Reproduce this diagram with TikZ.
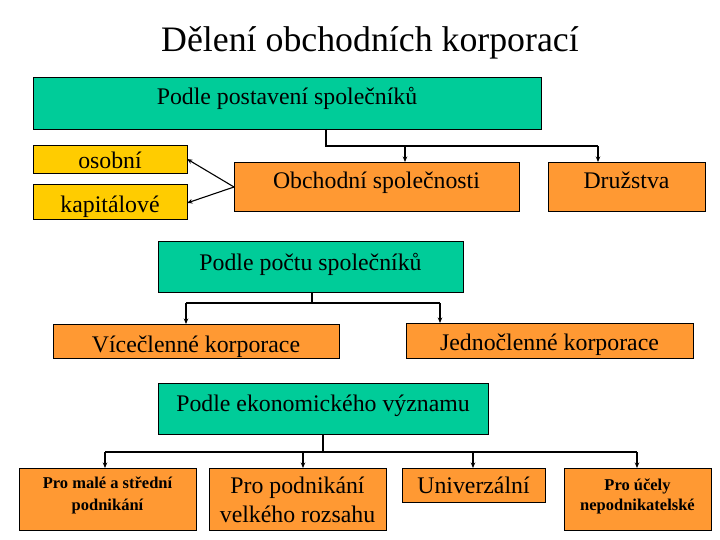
\documentclass[tikz,border=0pt]{standalone}
\usepackage{fontspec}
\setmainfont{Liberation Serif}
\usetikzlibrary{arrows.meta}
\definecolor{teal1}{HTML}{00CC99}
\definecolor{orng}{HTML}{FF9933}
\definecolor{yel}{HTML}{FFCC00}
\begin{document}
\begin{tikzpicture}[x=1pt,y=-1pt,
  box/.style={draw=black,line width=0.8pt,inner sep=0pt,outer sep=0pt},
  txt/.style={inner sep=0pt,anchor=base,font=\fontsize{23.8}{26}\selectfont},
  stxt/.style={inner sep=0pt,anchor=base,font=\fontsize{16.5}{18}\selectfont\bfseries},
  conn/.style={line width=1.1pt},
  arr/.style={line width=1.1pt,-{Stealth[length=5.5pt,width=4.5pt]}}]
\useasboundingbox (0,0) rectangle (720,540);
% title
\node[inner sep=0pt,anchor=base,font=\fontsize{35.8}{38}\selectfont] (title) at (370,52) {Dělení obchodních korporací};
% level 1
\node[box,fill=teal1,minimum width=508pt,minimum height=52pt] (b1) at (287,103) {};
\node[txt] (t1) at (287,105) {Podle postavení společníků};
\node[box,fill=yel,minimum width=154pt,minimum height=28pt] (os) at (110,159) {};
\node[txt] (tos) at (110,169) {osobní};
\node[box,fill=yel,minimum width=154pt,minimum height=35pt] (kap) at (110,201.5) {};
\node[txt] (tkap) at (110,212) {kapitálové};
\node[box,fill=orng,minimum width=285pt,minimum height=49pt] (obch) at (376.5,186.5) {};
\node[txt] (tobch) at (376.5,189) {Obchodní společnosti};
\node[box,fill=orng,minimum width=157pt,minimum height=49pt] (druz) at (626.5,186.5) {};
\node[txt] (tdruz) at (626.5,189) {Družstva};
\coordinate (j1) at (326,146);
\draw[conn] (b1.south -| j1) -- (j1) -- (598,146);
\draw[arr] (405,146) -- (obch.north -| 405,0);
\draw[arr] (598,146) -- (druz.north -| 598,0);
\coordinate (oL) at (234,187);
\draw[arr] (oL) -- (os.east |- 0,159);
\draw[arr] (oL) -- (kap.east |- 0,203);
% level 2
\node[box,fill=teal1,minimum width=305pt,minimum height=51pt] (b2) at (310.5,266.5) {};
\node[txt] (t2) at (310.5,270) {Podle počtu společníků};
\node[box,fill=orng,minimum width=286pt,minimum height=34pt] (vic) at (196,341) {};
\node[txt] (tvic) at (196,352) {Vícečlenné korporace};
\node[box,fill=orng,minimum width=287pt,minimum height=35pt] (jed) at (549.5,340.5) {};
\node[txt] (tjed) at (549.5,350) {Jednočlenné korporace};
\coordinate (j2) at (312,303);
\draw[conn] (b2.south -| j2) -- (j2);
\draw[conn] (186,303) -- (440,303);
\draw[arr] (186,303) -- (vic.north -| 186,0);
\draw[arr] (440,303) -- (jed.north -| 440,0);
% level 3
\node[box,fill=teal1,minimum width=330pt,minimum height=51pt] (b3) at (323,408.5) {};
\node[txt] (t3) at (323,411) {Podle ekonomického významu};
\node[box,fill=orng,minimum width=177pt,minimum height=62pt] (ba) at (107.5,499) {};
\node[stxt] (ta1) at (107.5,488) {Pro malé a střední};
\node[stxt] (ta2) at (107.5,510) {podnikání};
\node[box,fill=orng,minimum width=177pt,minimum height=62pt] (bb) at (297.5,499) {};
\node[txt] (tb1) at (297.5,493) {Pro podnikání};
\node[txt] (tb2) at (297.5,522) {velkého rozsahu};
\node[box,fill=orng,minimum width=143pt,minimum height=34pt] (bc) at (473.5,485) {};
\node[txt] (tc) at (473.5,493) {Univerzální};
\node[box,fill=orng,minimum width=147pt,minimum height=62pt] (bd) at (637.5,499) {};
\node[stxt] (td1) at (637.5,490) {Pro účely};
\node[stxt] (td2) at (637.5,510) {nepodnikatelské};
\coordinate (j3) at (323,452);
\draw[conn] (b3.south -| j3) -- (j3);
\draw[conn] (105,452) -- (637,452);
\draw[arr] (105,452) -- (ba.north -| 105,0);
\draw[arr] (303,452) -- (bb.north -| 303,0);
\draw[arr] (473,452) -- (bc.north -| 473,0);
\draw[arr] (637,452) -- (bd.north -| 637,0);
\end{tikzpicture}
\end{document}
